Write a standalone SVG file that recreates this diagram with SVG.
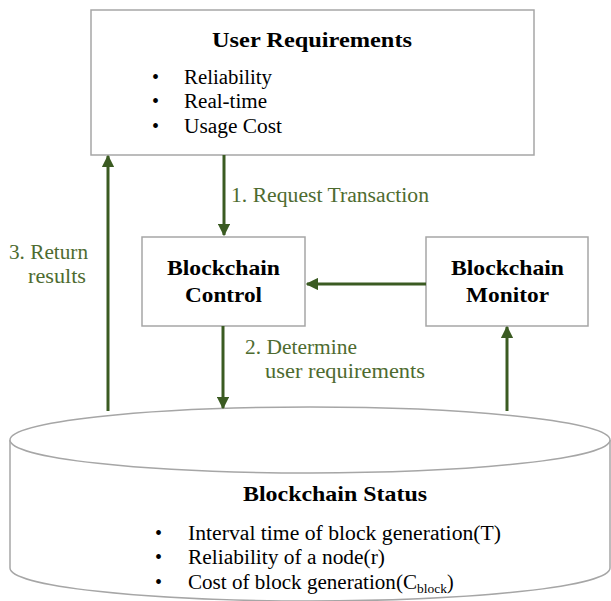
<svg xmlns="http://www.w3.org/2000/svg" width="611" height="601" viewBox="0 0 611 601">
<defs>
<style>
.box{fill:#fff;stroke:#a6a6a6;stroke-width:1.5}
.t{font-family:"Liberation Serif","DejaVu Serif",serif;fill:#000}
.b{font-weight:bold;font-size:21px}
.n{font-size:20px}
.g{font-family:"Liberation Serif","DejaVu Serif",serif;fill:#4e6b30;font-size:20px}
.c{stroke:#3b5b22;stroke-width:3;fill:none}
</style>
<marker id="ah" viewBox="0 0 10 10" refX="9" refY="5" markerWidth="4.2" markerHeight="4.2" orient="auto" markerUnits="strokeWidth">
<path d="M0,0 L10,5 L0,10 z" fill="#3b5b22"/>
</marker>
</defs>
<rect width="611" height="601" fill="#fff"/>
<g id="status">
<path class="box" d="M10,440 L10,568 A300,33 0 0 0 610,568 L610,440"/>
<ellipse class="box" cx="310" cy="440" rx="300" ry="33"/>
<text class="t b" x="243" y="501" textLength="184" lengthAdjust="spacingAndGlyphs">Blockchain Status</text>
<text class="t n" x="155" y="540">•</text>
<text class="t n" x="188" y="540" textLength="313" lengthAdjust="spacingAndGlyphs">Interval time of block generation(T)</text>
<text class="t n" x="155" y="564">•</text>
<text class="t n" x="188" y="564" textLength="197" lengthAdjust="spacingAndGlyphs">Reliability  of a node(r)</text>
<text class="t n" x="155" y="589">•</text>
<text class="t n" y="589"><tspan x="188" textLength="229" lengthAdjust="spacingAndGlyphs">Cost of block generation(C</tspan><tspan x="417" dy="4" font-size="13" textLength="30" lengthAdjust="spacingAndGlyphs">block</tspan><tspan x="447" dy="-4">)</tspan></text>
</g>
<g id="user-req">
<rect class="box" x="91" y="10" width="443" height="145"/>
<text class="t b" x="212" y="47" textLength="200" lengthAdjust="spacingAndGlyphs">User Requirements</text>
<text class="t n" x="152" y="84">•</text>
<text class="t n" x="184" y="84" textLength="88" lengthAdjust="spacingAndGlyphs">Reliability</text>
<text class="t n" x="152" y="108">•</text>
<text class="t n" x="184" y="108" textLength="83" lengthAdjust="spacingAndGlyphs">Real-time</text>
<text class="t n" x="152" y="133">•</text>
<text class="t n" x="184" y="133" textLength="98" lengthAdjust="spacingAndGlyphs">Usage Cost</text>
</g>
<g id="control">
<rect class="box" x="142" y="237" width="163" height="89"/>
<text class="t b" x="167" y="275" textLength="113" lengthAdjust="spacingAndGlyphs">Blockchain</text>
<text class="t b" x="185" y="302" textLength="77" lengthAdjust="spacingAndGlyphs">Control</text>
</g>
<g id="monitor">
<rect class="box" x="426" y="237" width="162" height="89"/>
<text class="t b" x="451" y="275" textLength="113" lengthAdjust="spacingAndGlyphs">Blockchain</text>
<text class="t b" x="466" y="302" textLength="83" lengthAdjust="spacingAndGlyphs">Monitor</text>
</g>
<g id="connectors">
<line class="c" x1="224" y1="155" x2="224" y2="235" marker-end="url(#ah)"/>
<line class="c" x1="426" y1="284" x2="307" y2="284" marker-end="url(#ah)"/>
<line class="c" x1="223" y1="326" x2="223" y2="408" marker-end="url(#ah)"/>
<line class="c" x1="507" y1="411" x2="507" y2="327" marker-end="url(#ah)"/>
<line class="c" x1="108" y1="411" x2="108" y2="156" marker-end="url(#ah)"/>
</g>
<g id="labels">
<text class="g" x="231" y="202" textLength="198" lengthAdjust="spacingAndGlyphs">1. Request Transaction</text>
<text class="g" x="245" y="354" textLength="112" lengthAdjust="spacingAndGlyphs">2. Determine</text>
<text class="g" x="265" y="378" textLength="160" lengthAdjust="spacingAndGlyphs">user requirements</text>
<text class="g" x="9" y="259" textLength="79" lengthAdjust="spacingAndGlyphs">3. Return</text>
<text class="g" x="28" y="283" textLength="58" lengthAdjust="spacingAndGlyphs">results</text>
</g>
</svg>
